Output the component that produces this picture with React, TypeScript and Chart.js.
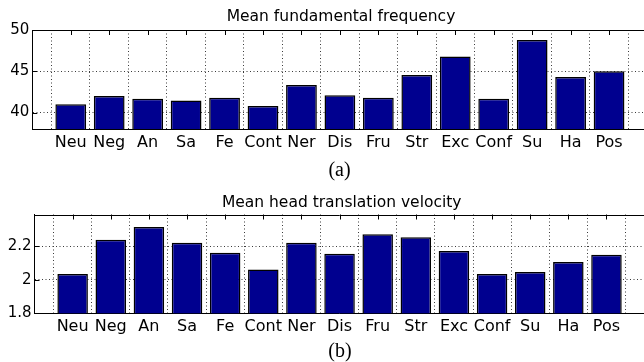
import React, { useEffect, useRef } from "react";
import { Chart, registerables } from "chart.js";

Chart.register(...registerables);

const categories = ["Neu", "Neg", "An", "Sa", "Fe", "Cont", "Ner", "Dis", "Fru", "Str", "Exc", "Conf", "Su", "Ha", "Pos"];
const freqValues = [41.0, 42.0, 41.67, 41.46, 41.78, 40.79, 43.33, 42.1, 41.78, 44.56, 46.79, 41.67, 48.8, 44.3, 45.0];
const velValues = [2.034, 2.239, 2.316, 2.221, 2.162, 2.061, 2.221, 2.156, 2.272, 2.254, 2.172, 2.034, 2.046, 2.107, 2.15];
const freqTicks = [40, 45, 50];
const velTicks = [1.8, 2, 2.2];
const titleA = "Mean fundamental frequency";
const titleB = "Mean head translation velocity";
const captionA = "(a)";
const captionB = "(b)";

type Cfg = {
  values: number[];
  yTicks: number[];
  yMin: number;
  yMax: number;
  title: string;
  caption: string;
  padTop: number;
  padRight: number;
  yWidth: number;
  padBottom: number;
  titleBase: number;
  titleX: number;
  capBase: number;
  capX: number;
};

function makeChart(canvas: HTMLCanvasElement, c: Cfg) {
  const deco = {
    id: "deco",
    beforeDatasetsDraw(chart: any) {
      const { ctx, chartArea: a } = chart;
      const xs = chart.scales.x;
      const ys = chart.scales.y;
      ctx.save();
      ctx.strokeStyle = "#000";
      ctx.lineWidth = 1;
      ctx.beginPath();
      for (let i = 1; i <= categories.length; i++) {
        const px = Math.round(xs.getPixelForValue(i)) + 0.5;
        ctx.moveTo(px, a.top);
        ctx.lineTo(px, a.top + 5);
      }
      for (const v of c.yTicks) {
        const py = Math.round(ys.getPixelForValue(v)) + 0.5;
        ctx.moveTo(a.left, py);
        ctx.lineTo(a.left + 5, py);
      }
      ctx.stroke();
      ctx.restore();
    },
    afterDraw(chart: any) {
      const { ctx, chartArea: a } = chart;
      ctx.save();
      ctx.strokeStyle = "#000";
      ctx.lineWidth = 1;
      ctx.beginPath();
      ctx.moveTo(a.left, Math.round(a.top) + 0.5);
      ctx.lineTo(a.right, Math.round(a.top) + 0.5);
      ctx.stroke();
      ctx.fillStyle = "#000";
      ctx.textAlign = "center";
      ctx.textBaseline = "alphabetic";
      ctx.font = "15.5px 'DejaVu Sans'";
      ctx.fillText(c.title, c.titleX, c.titleBase);
      ctx.font = "20px 'Liberation Serif'";
      ctx.fillText(c.caption, c.capX, c.capBase);
      ctx.restore();
    },
  };

  return new Chart(canvas, {
    type: "bar",
    data: {
      datasets: [
        {
          data: c.values.map((v, i) => ({ x: i + 1, y: v })),
          backgroundColor: "#00008f",
          borderColor: "#000000",
          borderWidth: 1.5,
          barPercentage: 0.8,
          categoryPercentage: 1,
        },
      ],
    },
    options: {
      animation: false,
      responsive: false,
      maintainAspectRatio: false,
      layout: { padding: { left: 0, top: c.padTop, right: c.padRight, bottom: c.padBottom } },
      plugins: { legend: { display: false }, tooltip: { enabled: false }, title: { display: false } },
      scales: {
        x: {
          type: "linear",
          min: 0,
          max: categories.length + 1,
          offset: false,
          afterFit: (s: any) => {
            s.height = 30;
          },
          afterBuildTicks: (s: any) => {
            s.ticks = categories.map((_, i) => ({ value: i + 1 }));
          },
          ticks: {
            autoSkip: false,
            maxRotation: 0,
            minRotation: 0,
            padding: 4,
            color: "#000",
            font: { family: "'DejaVu Sans'", size: 16 },
            callback: (v: any) => categories[Math.round(Number(v)) - 1] ?? "",
          },
          grid: { display: true, drawTicks: false, color: "#3a3a3a", lineWidth: 1, drawOnChartArea: true },
          border: { display: true, color: "#000", width: 1, dash: [1, 2.5] },
        },
        y: {
          type: "linear",
          min: c.yMin,
          max: c.yMax,
          afterFit: (s: any) => {
            s.width = c.yWidth;
          },
          afterBuildTicks: (s: any) => {
            s.ticks = c.yTicks.map((v) => ({ value: v }));
          },
          ticks: {
            padding: 3,
            color: "#000",
            font: { family: "'DejaVu Sans'", size: 15 },
            callback: (v: any) => String(Math.round(Number(v) * 100) / 100),
          },
          grid: { display: true, drawTicks: false, color: "#3a3a3a", lineWidth: 1 },
          border: { display: true, color: "#000", width: 1, dash: [1, 2.5] },
        },
      },
    },
    plugins: [deco],
  });
}

export default function App() {
  const ref1 = useRef<HTMLCanvasElement>(null);
  const ref2 = useRef<HTMLCanvasElement>(null);

  useEffect(() => {
    document.body.style.margin = "0";
    document.body.style.background = "#fff";
    const c1 = makeChart(ref1.current!, {
      values: freqValues,
      yTicks: freqTicks,
      yMin: 38,
      yMax: 50,
      title: titleA,
      caption: captionA,
      padTop: 30,
      padRight: 12.5,
      yWidth: 32.3,
      padBottom: 181 - 129 - 30,
      titleBase: 20.7,
      titleX: 341,
      capBase: 175.5,
      capX: 339.5,
    });
    const c2 = makeChart(ref2.current!, {
      values: velValues,
      yTicks: velTicks,
      yMin: 1.8,
      yMax: 2.39,
      title: titleB,
      caption: captionB,
      padTop: 33.5,
      padRight: 15.4,
      yWidth: 34.5,
      padBottom: 181 - 132.3 - 30,
      titleBase: 26,
      titleX: 341.7,
      capBase: 176,
      capX: 340,
    });
    return () => {
      c1.destroy();
      c2.destroy();
    };
  }, []);

  return (
    <div style={{ position: "relative", width: 644, height: 362, overflow: "hidden", background: "#fff" }}>
      <canvas ref={ref1} width={660} height={181} style={{ position: "absolute", left: 0, top: 0 }} />
      <canvas ref={ref2} width={660} height={181} style={{ position: "absolute", left: 0, top: 181 }} />
    </div>
  );
}
